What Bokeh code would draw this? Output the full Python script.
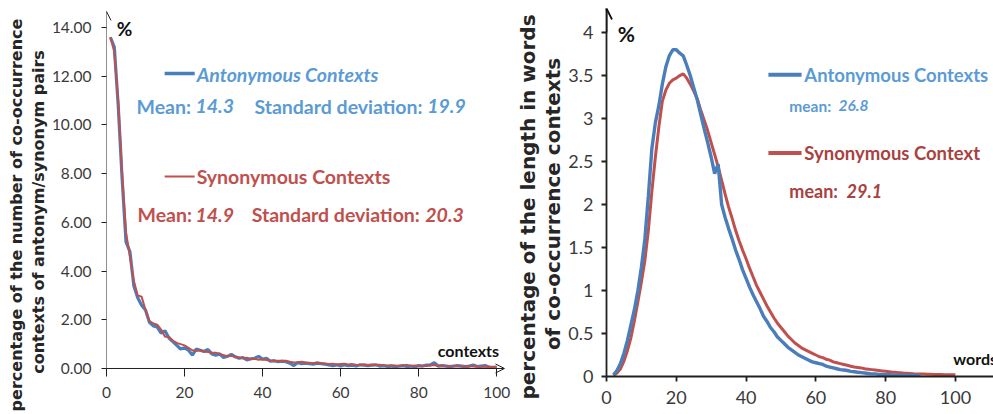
from bokeh.plotting import figure
from bokeh.layouts import row
from bokeh.models import Label, Arrow, OpenHead, FixedTicker, ColumnDataSource, Div
from bokeh.embed import file_html
from bokeh.resources import INLINE

# ---------------- data: left chart (number of co-occurrence contexts) ----------------
ctx_x = list(range(1, 101))
ctx_ant = [13.6, 13.2, 10.8, 7.8, 5.2, 4.8, 3.4, 2.9, 2.6, 2.4,
           1.9, 1.75, 1.7, 1.45, 1.55, 1.25, 1.1, 0.95, 0.8, 0.85,
           0.75, 0.55, 0.8, 0.75, 0.7, 0.78, 0.6, 0.55, 0.6, 0.45,
           0.5, 0.58, 0.48, 0.42, 0.45, 0.35, 0.4, 0.42, 0.5, 0.38,
           0.42, 0.3, 0.32, 0.28, 0.3, 0.28, 0.22, 0.12, 0.25, 0.2,
           0.22, 0.2, 0.18, 0.22, 0.2, 0.18, 0.15, 0.12, 0.15, 0.1,
           0.15, 0.12, 0.14, 0.1, 0.15, 0.14, 0.12, 0.14, 0.15, 0.1,
           0.12, 0.08, 0.1, 0.06, 0.1, 0.12, 0.08, 0.1, 0.06, 0.12,
           0.1, 0.14, 0.15, 0.24, 0.1, 0.12, 0.1, 0.08, 0.1, 0.12,
           0.1, 0.08, 0.1, 0.14, 0.08, 0.1, 0.12, 0.06, 0.05, 0.06]
ctx_syn = [13.6, 13.0, 11.0, 8.0, 5.6, 4.6, 3.6, 3.0, 2.95, 2.4,
           1.95, 1.85, 1.8, 1.6, 1.3, 1.3, 1.15, 1.05, 1.0, 0.95,
           0.85, 0.75, 0.72, 0.75, 0.7, 0.68, 0.65, 0.65, 0.6, 0.55,
           0.5, 0.52, 0.48, 0.45, 0.42, 0.44, 0.38, 0.4, 0.36, 0.38,
           0.35, 0.32, 0.3, 0.32, 0.3, 0.32, 0.28, 0.25, 0.26, 0.28,
           0.25, 0.24, 0.22, 0.25, 0.22, 0.2, 0.18, 0.2, 0.16, 0.18,
           0.2, 0.16, 0.18, 0.15, 0.14, 0.16, 0.14, 0.15, 0.14, 0.15,
           0.13, 0.12, 0.13, 0.12, 0.1, 0.12, 0.15, 0.1, 0.12, 0.1,
           0.11, 0.1, 0.12, 0.14, 0.1, 0.12, 0.1, 0.09, 0.1, 0.1,
           0.08, 0.09, 0.1, 0.08, 0.08, 0.07, 0.08, 0.07, 0.06, 0.06]
left_yticks = [0, 2, 4, 6, 8, 10, 12, 14]
left_ytick_labels = ["0.00", "2.00", "4.00", "6.00", "8.00", "10.00", "12.00", "14.00"]
left_xticks = [0, 20, 40, 60, 80, 100]
left_ylabel = ["percentage of the number of co-occurrence", "contexts of antonym/synonym pairs"]

# ---------------- data: right chart (length in words) ----------------
len_x_ant = list(range(2, 91))
len_ant = [0.02, 0.07, 0.15, 0.27, 0.42, 0.6, 0.78, 1.0, 1.27, 1.6,
           2.1, 2.65, 2.95, 3.15, 3.4, 3.6, 3.73, 3.8, 3.8, 3.76,
           3.73, 3.62, 3.5, 3.36, 3.22, 3.05, 2.88, 2.72, 2.55, 2.36,
           2.47, 2.0, 1.85, 1.72, 1.6, 1.47, 1.36, 1.24, 1.14, 1.04,
           0.95, 0.87, 0.79, 0.7, 0.64, 0.57, 0.52, 0.46, 0.42, 0.38,
           0.34, 0.31, 0.28, 0.25, 0.23, 0.21, 0.19, 0.17, 0.16, 0.15,
           0.14, 0.12, 0.11, 0.1, 0.09, 0.08, 0.075, 0.07, 0.06, 0.055,
           0.05, 0.045, 0.04, 0.035, 0.03, 0.03, 0.025, 0.02, 0.02, 0.02,
           0.018, 0.016, 0.015, 0.014, 0.013, 0.012, 0.011, 0.01, 0.01]
len_x_syn = list(range(2, 101))
len_syn = [0.01, 0.04, 0.09, 0.18, 0.3, 0.45, 0.65, 0.87, 1.1, 1.35,
           1.7, 2.15, 2.55, 2.9, 3.2, 3.33, 3.41, 3.45, 3.47, 3.5,
           3.52, 3.47, 3.4, 3.32, 3.23, 3.1, 2.98, 2.86, 2.72, 2.58,
           2.44, 2.28, 2.12, 1.97, 1.84, 1.7, 1.58, 1.47, 1.37, 1.26,
           1.16, 1.06, 0.98, 0.9, 0.82, 0.75, 0.68, 0.62, 0.57, 0.52,
           0.47, 0.43, 0.39, 0.36, 0.33, 0.31, 0.29, 0.27, 0.25, 0.23,
           0.22, 0.2, 0.19, 0.17, 0.16, 0.15, 0.14, 0.13, 0.12, 0.11,
           0.105, 0.1, 0.09, 0.085, 0.08, 0.075, 0.07, 0.065, 0.06, 0.055,
           0.05, 0.048, 0.045, 0.04, 0.038, 0.035, 0.032, 0.03, 0.03, 0.028,
           0.026, 0.025, 0.024, 0.023, 0.022, 0.021, 0.02, 0.02, 0.02]
right_yticks = [0, 0.5, 1, 1.5, 2, 2.5, 3, 3.5, 4]
right_xticks = [0, 20, 40, 60, 80, 100]
right_ylabel = ["percentage of the length in words", "of co-occurrence contexts"]

BLUE_LINE = "#4A7EBB"
BLUE_TEXT = "#5B9BD5"
RED_LINE = "#C0504D"
RED_TEXT = "#C0504D"
RED_DARK = "#A8423F"
TICK_COL = "#3a3a3a"
AXIS_COL = "#202020"
TEXT_FONT = "Lato"
H = 414
TOP, BOTTOM = 8, 38          # common borders (plots in a row share them)
LEFT_PX_PER_UNIT = 24.35     # vertical scale of the left chart
LEFT_ZERO_GAP = 8            # px between the left chart's zero line and its frame bottom


def style_axes(p, fsize, lw):
    for ax in (p.xaxis[0], p.yaxis[0]):
        ax.axis_line_color = AXIS_COL
        ax.axis_line_width = lw
        ax.major_tick_line_color = AXIS_COL
        ax.major_tick_line_width = lw
        ax.major_tick_in = 0
        ax.major_tick_out = 5
        ax.minor_tick_line_color = None
        ax.major_label_text_font = TEXT_FONT
        ax.major_label_text_font_size = fsize
        ax.major_label_text_color = TICK_COL
    p.xgrid.visible = False
    p.ygrid.visible = False
    p.outline_line_color = None


def add_label(p, x, y, text, color, size, style="bold", align="left"):
    p.add_layout(Label(x=x, y=y, text=text, text_color=color, text_font=TEXT_FONT,
                       text_font_size=size, text_font_style=style,
                       text_align=align, text_baseline="middle"))


def ylabel_div(width, lines, centers, size):
    # strip holding the two-line vertical axis title, rotated to read upwards
    spans = "".join(
        f'<div style="position:absolute;left:{cx}px;top:{cy}px;'
        f'transform:translate(-50%,-50%) rotate(-90deg);white-space:nowrap;'
        f"font-family:'DejaVu Sans';font-weight:bold;font-size:{size};line-height:1;"
        f'color:#262626;">{txt}</div>'
        for txt, (cx, cy) in zip(lines, centers))
    html = (f'<div style="position:relative;width:{width}px;height:{H}px;overflow:hidden;">'
            f'{spans}</div>')
    return Div(text=html, width=width, height=H, margin=0)


# ================= left figure =================
lab1 = ylabel_div(48, left_ylabel, [(17, 215), (39, 211.5)], "16px")

p1 = figure(frame_width=398, frame_height=H - TOP - BOTTOM,
            x_range=(0, 102),
            y_range=(-LEFT_ZERO_GAP / LEFT_PX_PER_UNIT, 14 + 19 / LEFT_PX_PER_UNIT),
            output_backend="svg", toolbar_location=None, title=None,
            min_border_left=57, min_border_right=15, min_border_top=TOP, min_border_bottom=BOTTOM)
style_axes(p1, "15.5px", 1)
p1.yaxis[0].ticker = FixedTicker(ticks=left_yticks)
p1.yaxis[0].major_label_overrides = dict(zip(left_yticks, left_ytick_labels))
p1.yaxis[0].axis_line_color = None
p1.yaxis[0].major_label_standoff = 10
# x axis sits at the frame bottom; its ticks reach up to the zero line, the line itself is drawn at y=0
p1.xaxis[0].ticker = FixedTicker(ticks=left_xticks)
p1.xaxis[0].axis_line_color = None
p1.xaxis[0].major_tick_in = LEFT_ZERO_GAP
p1.xaxis[0].major_tick_out = 0
p1.xaxis[0].major_label_standoff = 10

src1 = ColumnDataSource(dict(x=ctx_x, ant=ctx_ant, syn=ctx_syn))
p1.line("x", "ant", source=src1, line_color=BLUE_LINE, line_width=3.2)
p1.line("x", "syn", source=src1, line_color=RED_LINE, line_width=2)

# axis lines with arrow heads
p1.add_layout(Arrow(end=OpenHead(size=9, line_width=1, line_color=AXIS_COL), line_color=AXIS_COL,
                    line_width=1, x_start=0, y_start=-0.25, x_end=0, y_end=14.66))
p1.add_layout(Arrow(end=OpenHead(size=9, line_width=1, line_color=AXIS_COL), line_color=AXIS_COL,
                    line_width=1, x_start=0, y_start=0, x_end=102, y_end=0))

# legend-like annotations
p1.segment(x0=[14.9, 14.9], y0=[12.11, 7.885], x1=[22.6, 22.6], y1=[12.11, 7.885],
           line_color=[BLUE_LINE, RED_LINE], line_width=[3.5, 2])
add_label(p1, 23.1, 12.07, "Antonymous Contexts", BLUE_TEXT, "19.5px", "bold italic")
add_label(p1, 7.7, 10.76, "Mean:", BLUE_TEXT, "19.5px")
add_label(p1, 22.8, 10.76, "14.3", BLUE_TEXT, "19.5px", "bold italic")
add_label(p1, 37.9, 10.76, "Standard deviation:", BLUE_TEXT, "19.5px")
add_label(p1, 82.2, 10.76, "19.9", BLUE_TEXT, "19.5px", "bold italic")
add_label(p1, 23.1, 7.885, "Synonymous Contexts", RED_TEXT, "19.5px")
add_label(p1, 7.95, 6.32, "Mean:", RED_TEXT, "19.5px")
add_label(p1, 22.8, 6.32, "14.9", RED_TEXT, "19.5px", "bold italic")
add_label(p1, 37.2, 6.32, "Standard deviation:", RED_TEXT, "19.5px")
add_label(p1, 81.7, 6.32, "20.3", RED_TEXT, "19.5px", "bold italic")
add_label(p1, 4.6, 13.96, "%", "#111111", "19px", "bold", "center")
add_label(p1, 84.9, 0.74, "contexts", "#111111", "16px", "bold")

# ================= right figure =================
lab2 = ylabel_div(44, right_ylabel, [(9, 206.5), (34, 204)], "20px")

p2 = figure(frame_width=388, frame_height=H - TOP - BOTTOM, x_range=(0, 111.2), y_range=(0, 4.28),
            output_backend="svg", toolbar_location=None, title=None,
            min_border_left=43, min_border_right=0, min_border_top=TOP, min_border_bottom=BOTTOM)
style_axes(p2, "18px", 1.8)
p2.yaxis[0].ticker = FixedTicker(ticks=right_yticks)
p2.xaxis[0].ticker = FixedTicker(ticks=right_xticks)
p2.yaxis[0].major_label_standoff = 8
p2.xaxis[0].major_label_standoff = 9

p2.line(len_x_syn, len_syn, line_color=RED_LINE, line_width=3)
p2.line(len_x_ant, len_ant, line_color=BLUE_LINE, line_width=3.4)

p2.add_layout(Arrow(end=OpenHead(size=11, line_width=1.8, line_color="#111111"), line_color="#111111",
                    line_width=1.8, x_start=0, y_start=4.0, x_end=0, y_end=4.28))

p2.segment(x0=[46.4, 46.4], y0=[3.51, 2.60], x1=[55.9, 55.9], y1=[3.51, 2.60],
           line_color=[BLUE_LINE, RED_LINE], line_width=[4, 4])
add_label(p2, 56.7, 3.51, "Antonymous Contexts", BLUE_TEXT, "18.5px")
add_label(p2, 52.4, 3.15, "mean:", BLUE_TEXT, "15.5px")
add_label(p2, 66.5, 3.15, "26.8", BLUE_TEXT, "15.5px", "bold italic")
add_label(p2, 56.7, 2.60, "Synonymous Context", RED_DARK, "18.5px")
add_label(p2, 52.4, 2.16, "mean:", RED_DARK, "18px")
add_label(p2, 68.8, 2.16, "29.1", RED_DARK, "18px", "bold italic")
add_label(p2, 5.7, 3.99, "%", "#111111", "21px", "bold", "center")
add_label(p2, 99.4, 0.21, "words", "#111111", "16px", "bold")

layout = row(lab1, p1, lab2, p2)
open("out.html", "w").write(file_html(layout, INLINE))
